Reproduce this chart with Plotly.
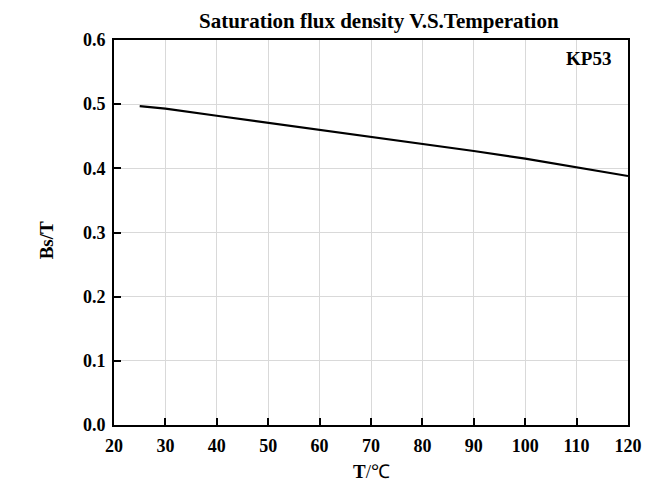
import plotly.graph_objects as go

temps = [25, 30, 40, 50, 60, 70, 80, 90, 100, 110, 120]
bs = [0.497, 0.493, 0.482, 0.471, 0.461, 0.450, 0.439, 0.427, 0.415, 0.402, 0.388]
x_ticks = [20, 30, 40, 50, 60, 70, 80, 90, 100, 110, 120]
y_ticks = [0.0, 0.1, 0.2, 0.3, 0.4, 0.5, 0.6]

font = "Liberation Serif"

fig = go.Figure()
fig.add_trace(go.Scatter(x=temps, y=bs, mode="lines",
                         line=dict(color="black", width=2.2), showlegend=False))

fig.update_layout(
    width=646, height=483,
    margin=dict(l=106, r=24, t=32, b=66),
    paper_bgcolor="white", plot_bgcolor="white",
    title=dict(text="<b>Saturation flux density V.S.Temperation</b>",
               x=0.574, xanchor="center", y=0.974, yanchor="middle",
               font=dict(family=font, size=21, color="black")),
    font=dict(family=font, color="black"),
)
fig.update_xaxes(range=[20, 120], tickvals=x_ticks,
                 ticktext=[f"<b>{v}</b>" for v in x_ticks],
                 tickfont=dict(family=font, size=18, color="black"),
                 showgrid=True, gridcolor="#d9d9d9", gridwidth=1,
                 showline=True, linecolor="black", linewidth=2, mirror=True,
                 ticks="inside", ticklen=7, tickwidth=1.5, tickcolor="black",
                 ticklabelstandoff=3,
                 zeroline=False)
fig.update_yaxes(range=[0, 0.6], tickvals=y_ticks,
                 ticktext=[f"<b>{v:.1f}</b>" for v in y_ticks],
                 tickfont=dict(family=font, size=18, color="black"),
                 showgrid=True, gridcolor="#d9d9d9", gridwidth=1,
                 showline=True, linecolor="black", linewidth=2, mirror=True,
                 ticks="inside", ticklen=7, tickwidth=1.5, tickcolor="black",
                 ticklabelstandoff=3,
                 zeroline=False)
fig.add_annotation(text="<b>KP53</b>", xref="paper", yref="paper", x=0.97, y=0.985,
                   xanchor="right", yanchor="top", showarrow=False,
                   font=dict(family=font, size=19, color="black"))
fig.add_annotation(text="<b>Bs/T</b>", xref="paper", yref="paper", x=-0.132, y=0.48,
                   xanchor="center", yanchor="middle", textangle=-90, showarrow=False,
                   font=dict(family=font, size=19, color="black"))
fig.add_annotation(text="<b>T</b>/℃", xref="paper", yref="paper", x=0.5, y=-0.122,
                   xanchor="center", yanchor="middle", showarrow=False,
                   font=dict(family=font, size=19, color="black"))

fig.write_html("out.html")
